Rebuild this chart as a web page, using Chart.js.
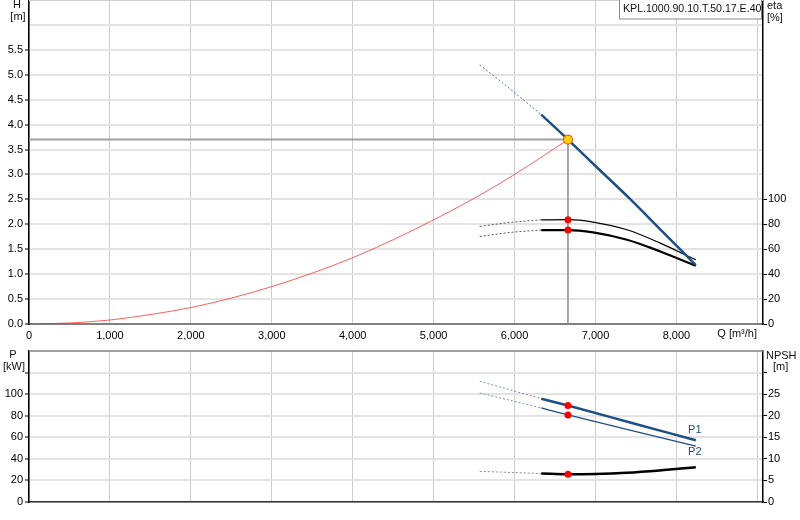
<!DOCTYPE html>
<html><head><meta charset="utf-8">
<script src="https://cdn.jsdelivr.net/npm/chart.js@4.4.0/dist/chart.umd.min.js"></script>
<style>
html,body{margin:0;padding:0;background:#fff;width:800px;height:520px;overflow:hidden}
canvas{position:absolute;left:0}
#top{top:0}
#bot{top:340px}
</style></head><body>
<canvas id="top" width="800" height="340"></canvas>
<canvas id="bot" width="800" height="180"></canvas>
<script>
// ---------- axis ticks ----------
const qTicks   = [0,1000,2000,3000,4000,5000,6000,7000,8000,9000];
const qLabels  = ['0','1,000','2,000','3,000','4,000','5,000','6,000','7,000','8,000',''];
const hTicks   = [0,0.5,1,1.5,2,2.5,3,3.5,4,4.5,5,5.5,6];
const hLabels  = ['0.0','0.5','1.0','1.5','2.0','2.5','3.0','3.5','4.0','4.5','5.0','5.5',''];
const etaTicks = [0,20,40,60,80,100];
const pTicks   = [0,20,40,60,80,100,120];
const pLabels  = ['0','20','40','60','80','100',''];
const npshTicks  = [0,5,10,15,20,25,30];
const npshLabels = ['0','5','10','15','20','25',''];

// ---------- data ----------
const sysQ = [0,500,1000,1500,2000,2500,3000,3500,4000,4500,5000,5500,6000,6660];
const sysH = [0,0.02,0.08,0.19,0.33,0.52,0.75,1.02,1.33,1.69,2.09,2.52,3.00,3.70];

const hDashQ = [5570,5950,6330];
const hDashH = [5.20,4.71,4.20];
const hQ = [6330,6660,7000,7420,7800,8240];
const hH = [4.20,3.70,3.17,2.52,1.90,1.18];

const eta1DashQ = [5570,5950,6330];
const eta1DashV = [78.3,81.5,83.6];
const eta1Q = [6330,6660,6970,7390,7800,8240];
const eta1V = [83.6,83.7,81.8,75.6,64.9,51.5];

const eta2DashQ = [5570,5950,6330];
const eta2DashV = [70.2,73.5,75.4];
const eta2Q = [6330,6660,6970,7390,7800,8240];
const eta2V = [75.4,75.4,73.5,67.6,58.2,46.7];

const p1DashQ = [5570,6330];
const p1DashV = [111.9,95.8];
const p1Q = [6330,6660,7450,8240];
const p1V = [95.8,89.4,73.3,57.2];

const p2DashQ = [5570,6330];
const p2DashV = [101.1,87.2];
const p2Q = [6330,6660,7450,8240];
const p2V = [87.2,80.7,66.2,51.7];

const npshDashQ = [5570,6330];
const npshDashV = [7.1,6.6];
const npshQ = [6330,6660,7000,7380,7790,8240];
const npshV = [6.6,6.44,6.5,6.76,7.29,8.06];

const dutyQ = 6660, dutyH = 3.70;
const dutyEta1 = 83.7, dutyEta2 = 75.4;
const dutyP1 = 89.4, dutyP2 = 80.7, dutyNpsh = 6.44;

const pumpName = 'KPL.1000.90.10.T.50.17.E.40';

// ---------- helpers ----------
const pts = (xs, ys) => xs.map((x, i) => ({x, y: ys[i]}));
const BLUE = '#1b4f87';
const FONT = "'Liberation Sans', Arial, Helvetica, sans-serif";
Chart.defaults.font.family = FONT;
Chart.defaults.font.size = 11;
Chart.defaults.color = '#000';

function line(data, color, width, extra) {
  return Object.assign({type:'scatter', data, showLine:true, borderColor:color, borderWidth:width,
    pointRadius:0, pointHoverRadius:0, fill:false, cubicInterpolationMode:'monotone'}, extra || {});
}
function dash(data, color, extra) {
  return line(data, color, 1, Object.assign({borderDash:[2,2], order:3}, extra || {}));
}
function marker(data, extra) {
  return Object.assign({type:'scatter', data, pointRadius:3.5, pointBackgroundColor:'#ff0000',
    pointBorderColor:'#ff0000', pointBorderWidth:0, showLine:false, order:0}, extra || {});
}
const setTicks = arr => scale => { scale.ticks = arr.map(v => ({value: v})); };
const fixW = w => scale => { scale.width = w; scale.paddingTop = 0; scale.paddingBottom = 0; };
const fixH = h => scale => { scale.height = h; scale.paddingLeft = 0; scale.paddingRight = 0; };

function xScale(showLabels, h) {
  return {
    type:'linear', min:0, max:9070,
    afterBuildTicks: setTicks(qTicks), afterFit: fixH(h),
    grid:{color:'#cccccc', lineWidth:1, drawTicks:false},
    border:{color:'#808080', width:2},
    ticks:{display:showLabels, padding:5, maxRotation:0, autoSkip:false,
      callback:(v, i) => qLabels[i]}
  };
}

const textPlugin = (draw) => ({id:'txt' + Math.floor(Math.random()*1e6), afterDraw(chart){ const c = chart.ctx; c.save(); draw(chart, c); c.restore(); }});

// ---------- top chart ----------
new Chart(document.getElementById('top'), {
  type:'scatter',
  data:{datasets:[
    marker([{x:dutyQ, y:dutyH}], {pointRadius:4.5, pointBackgroundColor:'#ffd400', pointBorderColor:'#ff5a1f', pointBorderWidth:1.2}),
    marker([{x:dutyQ, y:dutyEta1}, {x:dutyQ, y:dutyEta2}], {yAxisID:'eta'}),
    line(pts(hQ, hH), BLUE, 2.5, {order:1}),
    dash(pts(hDashQ, hDashH), '#5a7198'),
    line(pts(eta1Q, eta1V), '#000', 1.2, {yAxisID:'eta', order:1}),
    dash(pts(eta1DashQ, eta1DashV), '#555', {yAxisID:'eta'}),
    line(pts(eta2Q, eta2V), '#000', 2.2, {yAxisID:'eta', order:1}),
    dash(pts(eta2DashQ, eta2DashV), '#555', {yAxisID:'eta'}),
    line(pts(sysQ, sysH), 'rgba(255,40,40,0.75)', 1, {order:2}),
    line([{x:0, y:dutyH}, {x:dutyQ, y:dutyH}], '#a0a0a0', 2, {order:4, cubicInterpolationMode:'default', tension:0}),
    line([{x:dutyQ, y:dutyH}, {x:dutyQ, y:0}], '#8c8c8c', 1.5, {order:4, cubicInterpolationMode:'default', tension:0})
  ]},
  options:{
    responsive:false, animation:false, devicePixelRatio:1,
    layout:{autoPadding:false, padding:{top:0, left:0, right:0, bottom:0}},
    plugins:{legend:{display:false}, tooltip:{enabled:false}},
    scales:{
      x: xScale(true, 16),
      y:{type:'linear', position:'left', min:0, max:6.5,
        afterBuildTicks: setTicks(hTicks), afterFit: fixW(29),
        grid:{color:'#e3e3e3', lineWidth:2, tickLength:4, tickWidth:1,
          tickColor: ctx => (ctx.tick && ctx.tick.value <= 5.5) ? '#000' : 'rgba(0,0,0,0)'},
        border:{color:'#000', width:1.5},
        ticks:{padding:2, callback:(v, i) => hLabels[i]}},
      eta:{type:'linear', position:'right', min:0, max:260,
        afterBuildTicks: setTicks(etaTicks), afterFit: fixW(37),
        grid:{drawOnChartArea:false, tickLength:4, tickWidth:1, tickColor:'#000'},
        border:{color:'#000', width:1.5},
        ticks:{padding:1, callback:v => String(v)}}
    }
  },
  plugins:[textPlugin((chart, c) => {
    const a = chart.chartArea;
    c.strokeStyle = '#d0d0d0'; c.lineWidth = 1;
    c.beginPath(); c.moveTo(a.left, 0.5); c.lineTo(a.right, 0.5); c.stroke();
    c.fillStyle = '#111'; c.font = '11px ' + FONT; c.textBaseline = 'middle';
    c.textAlign = 'center';
    c.fillText('H', 17, 5); c.fillText('[m]', 18, 17);
    c.textAlign = 'left';
    c.fillText('eta', 767, 6); c.fillText('[%]', 767, 18);
    c.textAlign = 'right';
    c.fillText('Q [m\u00B3/h]', 757, 334);
    // name box
    c.fillStyle = '#fff'; c.fillRect(619.5, -1, 142, 20);
    c.strokeStyle = '#8a8a8a'; c.lineWidth = 1; c.strokeRect(619.5, -1, 142, 20);
    c.fillStyle = '#111'; c.textAlign = 'left';
    c.font = '10.6px ' + FONT;
    c.fillText(pumpName, 623, 9);
  })]
});

// ---------- bottom chart ----------
new Chart(document.getElementById('bot'), {
  type:'scatter',
  data:{datasets:[
    marker([{x:dutyQ, y:dutyP1}, {x:dutyQ, y:dutyP2}]),
    marker([{x:dutyQ, y:dutyNpsh}], {yAxisID:'npsh'}),
    line(pts(p1Q, p1V), BLUE, 2.5, {order:1}),
    dash(pts(p1DashQ, p1DashV), '#7f8fae'),
    line(pts(p2Q, p2V), BLUE, 1.3, {order:1}),
    dash(pts(p2DashQ, p2DashV), '#7f8fae'),
    line(pts(npshQ, npshV), '#000', 2.5, {yAxisID:'npsh', order:1}),
    dash(pts(npshDashQ, npshDashV), '#888', {yAxisID:'npsh'})
  ]},
  options:{
    responsive:false, animation:false, devicePixelRatio:1,
    layout:{autoPadding:false, padding:{top:11, left:0, right:0, bottom:0}},
    plugins:{legend:{display:false}, tooltip:{enabled:false}},
    scales:{
      x: Object.assign(xScale(false, 18), {border:{color:'#333', width:1.5}}),
      y:{type:'linear', position:'left', min:0, max:140,
        afterBuildTicks: setTicks(pTicks), afterFit: fixW(29),
        grid:{color:'#e3e3e3', lineWidth:2, tickLength:4, tickWidth:1, tickColor:'#000'},
        border:{color:'#000', width:1.5},
        ticks:{padding:2, callback:(v, i) => pLabels[i]}},
      npsh:{type:'linear', position:'right', min:0, max:35,
        afterBuildTicks: setTicks(npshTicks), afterFit: fixW(37),
        grid:{drawOnChartArea:false, tickLength:4, tickWidth:1, tickColor:'#000'},
        border:{color:'#000', width:1.5},
        ticks:{padding:1, callback:(v, i) => npshLabels[i]}}
    }
  },
  plugins:[textPlugin((chart, c) => {
    const a = chart.chartArea;
    c.strokeStyle = '#808080'; c.lineWidth = 1.5;
    c.beginPath(); c.moveTo(a.left, a.top); c.lineTo(a.right, a.top); c.stroke();
    c.fillStyle = '#111'; c.font = '11px ' + FONT; c.textBaseline = 'middle';
    c.textAlign = 'center';
    c.fillText('P', 13, 15); c.fillText('[kW]', 14, 27);
    c.textAlign = 'left';
    c.fillText('NPSH', 766, 16); c.fillText('[m]', 773, 27);
    const xs = chart.scales.x, ys = chart.scales.y;
    c.fillStyle = BLUE; c.textAlign = 'center';
    const px = xs.getPixelForValue(p1Q[p1Q.length - 1]);
    c.fillText('P1', px - 1, ys.getPixelForValue(p1V[p1V.length - 1]) - 10);
    c.fillText('P2', px - 1, ys.getPixelForValue(p2V[p2V.length - 1]) + 6);
  })]
});
</script>
</body></html>
